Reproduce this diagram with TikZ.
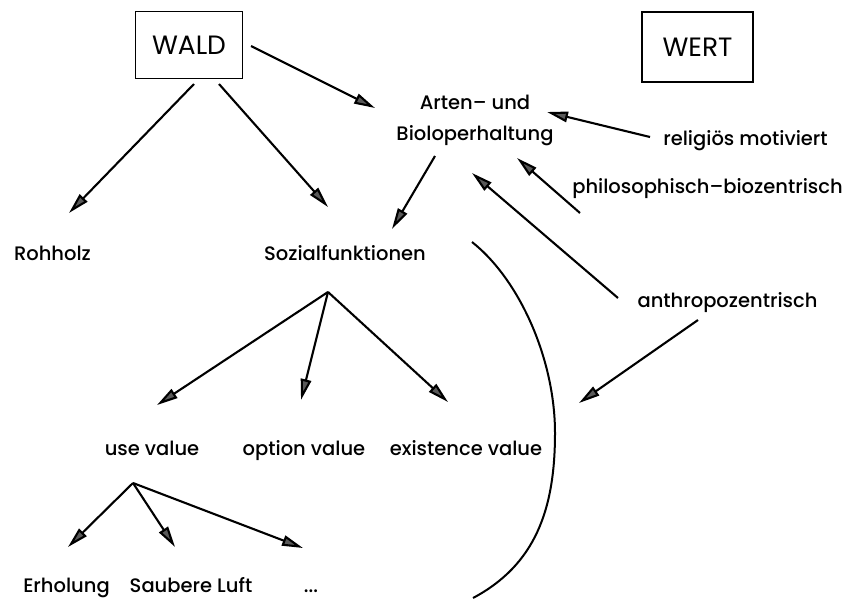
\documentclass[tikz,border=0pt]{standalone}
\usepackage{fontspec}
\setmainfont{Poppins}
\IfFontExistsTF{Poppins Medium}{\newfontfamily\labfont{Poppins Medium}}{\newfontfamily\labfont{Poppins}\let\labfontorig\labfont\def\labfont{\labfontorig\bfseries}}
\usetikzlibrary{arrows.meta}
\tikzset{
  box/.style={draw, line width=1.8pt, minimum width=107pt, minimum height=67pt, inner sep=0pt, font=\fontsize{26.5}{32}\selectfont},
  lab/.style={inner sep=0pt, anchor=base, font=\labfont\fontsize{19.5}{31}\selectfont},
  arr/.style={line width=2.1pt, -{Triangle[length=21pt,width=10.5pt,fill=black!65]}},
}
\begin{document}
\begin{tikzpicture}[x=1pt,y=-1pt]
\useasboundingbox (0,0) rectangle (845,600);
% boxes
\node[box] (wald) at (189,45) {WALD};
\node[box, minimum width=111pt, minimum height=70pt] (wert) at (697.5,47) {WERT};
% labels
\node[lab, anchor=center, align=center] (arten) at (475,120) {Arten–\ und\\Bioloperhaltung};
\node[lab] (relig) at (745.5,145) {religiös motiviert};
\node[lab] (philo) at (707.5,193) {philosophisch–biozentrisch};
\node[lab] (anthro) at (727.5,307) {anthropozentrisch};
\node[lab] (rohholz) at (52.5,260) {Rohholz};
\node[lab] (sozial) at (345,260) {Sozialfunktionen};
\node[lab] (use) at (152,455) {use value};
\node[lab] (option) at (304,455) {option value};
\node[lab] (exist) at (466,455) {existence value};
\node[lab] (erh) at (66.5,592) {Erholung};
\node[lab] (saub) at (191,592) {Saubere Luft};
\node[lab] (dots) at (311,592) {...};
% branch points
\coordinate (b1) at ([shift={(-17,32)}]sozial.base);
\coordinate (b2) at ([shift={(-19,28)}]use.base);
\coordinate (outer) at (579,403);
% arrows
\draw[arr] ([shift={(5,39)}]wald.center) -- ([shift={(16.5,-47)}]rohholz.base);
\draw[arr] ([shift={(30,39)}]wald.center) -- ([shift={(-17,-53)}]sozial.base);
\draw[arr] ([shift={(62,1)}]wald.center) -- ([shift={(-100,-12)}]arten.center);
\draw[arr] ([shift={(-40,36)}]arten.center) -- ([shift={(47,-31)}]sozial.base);
\draw[arr] ([shift={(-95.5,-8)}]relig.base) -- ([shift={(72,-8)}]arten.center);
\draw[arr] ([shift={(-127.5,20)}]philo.base) -- ([shift={(42,38)}]arten.center);
\draw[arr] ([shift={(-109.5,-9)}]anthro.base) -- ([shift={(-3,53)}]arten.center);
\draw[arr] ([shift={(-29.5,13)}]anthro.base) -- (outer);
\draw[arr] (b1) -- ([shift={(5,-50)}]use.base);
\draw[arr] (b1) -- ([shift={(-3,-55)}]option.base);
\draw[arr] (b1) -- ([shift={(-18,-53)}]exist.base);
\draw[arr] (b2) -- ([shift={(1.5,-45)}]erh.base);
\draw[arr] (b2) -- ([shift={(-16,-45)}]saub.base);
\draw[arr] (b2) -- ([shift={(-8,-44)}]dots.base);
% big curve
\draw[line width=2pt] (472,242) .. controls (520,280) and (555,360) .. (555,433)
  .. controls (555,510) and (535,565) .. (473,598);
\end{tikzpicture}
\end{document}
